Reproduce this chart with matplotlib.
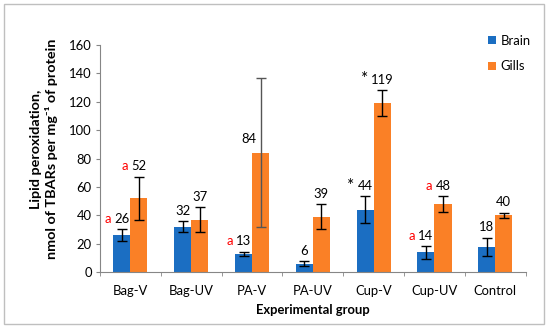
import numpy as np
import matplotlib
matplotlib.use('Agg')
import matplotlib.pyplot as plt
from matplotlib.patches import Rectangle

plt.rcParams['font.family'] = ['Lato', 'DejaVu Sans']

# Data
groups = ['Bag-V', 'Bag-UV', 'PA-V', 'PA-UV', 'Cup-V', 'Cup-UV', 'Control']
brain = [26, 32, 13, 6, 44, 14, 18]
brain_err = [4.2, 4.0, 1.4, 1.6, 9.5, 4.5, 6.2]
gills = [52, 37, 84, 39, 119, 48, 40]
gills_err = [15.3, 8.8, 52.4, 8.7, 9.2, 5.4, 2.0]
# significance marks in front of the value labels
brain_marks = ['a', '', 'a', '', '*', 'a', '']
gills_marks = ['a', '', '', '', '*', 'a', '']

blue = '#1B6EC2'
orange = '#FA8026'
fs = 9.4

fig = plt.figure(figsize=(5.5, 3.29), dpi=100)
ax = fig.add_axes([100 / 550, 1 - 272.3 / 329, 425.7 / 550, 227.5 / 329])

x = np.arange(len(groups))
w = 0.28
ax.bar(x - w / 2, brain, w, color=blue, label='Brain', zorder=2)
ax.bar(x + w / 2, gills, w, color=orange, label='Gills', zorder=2)

for i in range(len(groups)):
    for xpos, val, err in [(x[i] - w / 2, brain[i], brain_err[i]),
                           (x[i] + w / 2, gills[i], gills_err[i])]:
        col = '#555555' if err > 30 else 'black'
        ax.errorbar(xpos, val, yerr=err, fmt='none', ecolor=col,
                    elinewidth=1, capsize=3.5, capthick=1, zorder=3)


def put_label(xpos, val, err, mark):
    txt = str(val)
    if err > 30:
        y = val + 7
        xpos = xpos - 0.2
    else:
        y = val + err + 4.5
    ax.text(xpos, y, txt, ha='center', va='baseline', fontsize=fs, zorder=4)
    if mark:
        off = -(len(txt) * 2.6 + 2.4)
        if mark == '*':
            ax.annotate('*', (xpos, y), xytext=(off, -0.5), textcoords='offset points',
                        ha='right', va='baseline', fontsize=fs + 3, color='black')
        else:
            ax.annotate(mark, (xpos, y), xytext=(off, 0), textcoords='offset points',
                        ha='right', va='baseline', fontsize=fs, color='#FF0000')


for i in range(len(groups)):
    put_label(x[i] - w / 2, brain[i], brain_err[i], brain_marks[i])
    put_label(x[i] + w / 2, gills[i], gills_err[i], gills_marks[i])

ax.set_xlim(-0.5, len(groups) - 0.5)
ax.set_ylim(0, 160)
ax.set_yticks(np.arange(0, 161, 20))
ax.set_xticks(x)
ax.set_xticklabels(groups)
ax.set_xticks(np.arange(-0.5, len(groups)), minor=True)
ax.tick_params(axis='x', which='major', length=0, pad=9, labelsize=fs)
ax.tick_params(axis='x', which='minor', length=3, color='#868686', direction='out')
ax.tick_params(axis='y', length=3, color='#868686', labelsize=fs, pad=3)

for s in ['top', 'right']:
    ax.spines[s].set_visible(False)
for s in ['left', 'bottom']:
    ax.spines[s].set_color('#868686')

ax.set_xlabel('Experimental group', fontsize=fs, fontweight='bold', labelpad=5)
fig.text(44 / 550, 1 - 149 / 329,
         'Lipid peroxidation,\nnmol of TBARs per mg\u207b\u00b9 of protein',
         rotation=90, ha='center', va='center', fontsize=10.4, fontweight='bold',
         linespacing=1.2)

ax.legend(loc='upper left', bbox_to_anchor=(476 / 550, 1 - 23 / 329),
          bbox_transform=fig.transFigure, frameon=False, fontsize=fs,
          handlelength=0.6, handleheight=0.6, handletextpad=0.4, labelspacing=1.05)

fig.patches.append(Rectangle((4 / 550, 5 / 329), 540 / 550, 320 / 329,
                             transform=fig.transFigure, fill=False,
                             edgecolor='#BFBFBF', linewidth=1))

fig.savefig('out.png', dpi=100)
